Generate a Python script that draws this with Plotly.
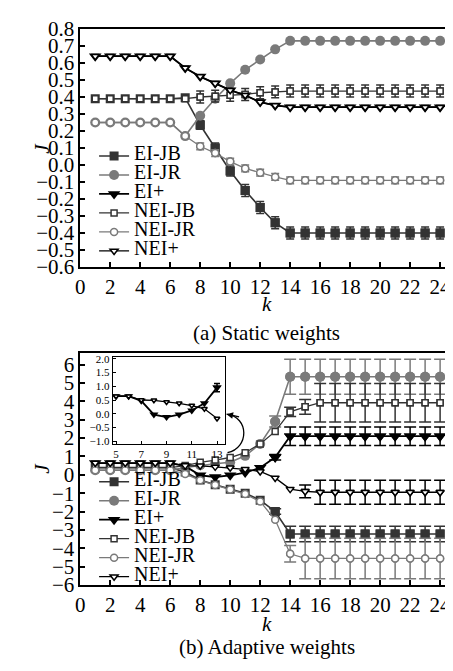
import plotly.graph_objects as go

# ---------------- data ----------------
k = list(range(1, 25))
series_names = ["EI-JB", "EI-JR", "EI+", "NEI-JB", "NEI-JR", "NEI+"]

# (a) Static weights
static_ei_jb = [0.39] * 6 + [0.395, 0.235, 0.10, -0.035, -0.15, -0.25, -0.34] + [-0.40] * 11
static_ei_jb_err = [0] * 7 + [0.025, 0.03, 0.03, 0.035, 0.035, 0.035] + [0.035] * 11
static_ei_jr = [0.25] * 6 + [0.17, 0.29, 0.39, 0.48, 0.56, 0.62, 0.68] + [0.73] * 11
static_ei_plus = [0.64] * 6 + [0.57, 0.52, 0.48, 0.44, 0.41, 0.37, 0.35] + [0.34] * 11
static_nei_jb = [0.39] * 7 + [0.40, 0.405, 0.41, 0.415, 0.425, 0.43] + [0.435] * 11
static_nei_jb_err = [0] * 7 + [0.035] * 17
static_nei_jr = [0.25] * 6 + [0.17, 0.11, 0.07, 0.02, -0.02, -0.045, -0.07] + [-0.09] * 11
static_nei_jr_err = [0] * 7 + [0.02] * 17
static_nei_plus = [0.64] * 6 + [0.57, 0.52, 0.48, 0.44, 0.41, 0.37, 0.35] + [0.34] * 11

# (b) Adaptive weights
adapt_ei_jb = [0.39] * 6 + [0.15, -0.28, -0.54, -0.78, -1.0, -1.38, -2.0] + [-3.22] * 11
adapt_ei_jb_err = [0] * 12 + [0.15] + [0.42] * 11
adapt_ei_jr = [0.25] * 6 + [0.4, 0.52, 0.6, 0.68, 1.03, 1.68, 2.9] + [5.33] * 11
adapt_ei_jr_err = [0] * 12 + [0.3] + [0.95] * 11
adapt_ei_plus = [0.64] * 6 + [0.47, -0.03, -0.12, -0.03, 0.12, 0.38, 0.95] + [2.1] * 11
adapt_ei_plus_err = [0] * 12 + [0.15] + [0.5] * 11
adapt_nei_jb = [0.39] * 6 + [0.5, 0.68, 0.8, 0.94, 1.2, 1.68, 2.36, 3.42, 3.7] + [3.92] * 9
adapt_nei_jb_err = [0] * 13 + [0.25, 0.4] + [1.05] * 9
adapt_nei_jr = [0.25] * 6 + [0.05, -0.3, -0.56, -0.8, -1.05, -1.45, -2.45, -4.3] + [-4.55] * 10
adapt_nei_jr_err = [0] * 13 + [0.45] + [1.1] * 10
adapt_nei_plus = [0.64] * 6 + [0.5, 0.49, 0.43, 0.38, 0.3, 0.18, -0.17, -0.78, -0.9] + [-0.95] * 9
adapt_nei_plus_err = [0] * 14 + [0.35] + [0.65] * 9

inset_k = [5, 6, 7, 8, 9, 10, 11, 12, 13]

x_ticks = list(range(0, 25, 2))
inset_x_ticks = [5, 7, 9, 11, 13]

# ---------------- styles ----------------
FONT = "'Liberation Serif', 'Times New Roman', 'DejaVu Serif', serif"
DARK = "#333333"
GRAY = "#7a7a7a"
BLACK = "#000000"
styles = {
    "EI-JB": dict(symbol="square", size=9, fill=DARK, edge=DARK, lw=1.6, mlw=0),
    "EI-JR": dict(symbol="circle", size=10, fill=GRAY, edge=GRAY, lw=1.6, mlw=0),
    "EI+": dict(symbol="triangle-down", size=11, fill=BLACK, edge=BLACK, lw=1.8, mlw=0),
    "NEI-JB": dict(symbol="square", size=6, fill="white", edge=DARK, lw=1.3, mlw=1.5),
    "NEI-JR": dict(symbol="circle", size=7, fill="white", edge=GRAY, lw=1.3, mlw=1.5),
    "NEI+": dict(symbol="triangle-down", size=7, fill="white", edge=BLACK, lw=1.3, mlw=1.5),
}

fig = go.Figure()


def add_series(name, y, err, xa, ya, legend, capw, showlegend=True, xs=None):
    st = styles[name]
    xs = k if xs is None else xs
    marker = dict(symbol=st["symbol"], size=st["size"], color=st["fill"],
                  line=dict(color=st["edge"], width=st["mlw"]))
    fig.add_trace(go.Scatter(
        x=xs, y=y, mode="lines+markers", xaxis=xa, yaxis=ya,
        name=f'<span style="font-size:20px">{name}</span>',
        legend=legend, showlegend=showlegend,
        line=dict(color=st["edge"], width=st["lw"]), marker=marker))
    if err is not None:
        ex = [xv for xv, e in zip(xs, err) if e > 0]
        ey = [yv for yv, e in zip(y, err) if e > 0]
        ee = [e for e in err if e > 0]
        fig.add_trace(go.Scatter(
            x=ex, y=ey, mode="markers", xaxis=xa, yaxis=ya, showlegend=False,
            marker=marker,
            error_y=dict(type="data", array=ee, visible=True, color=st["edge"],
                         thickness=1.5, width=capw)))


top = [
    ("EI-JB", static_ei_jb, static_ei_jb_err),
    ("EI-JR", static_ei_jr, None),
    ("EI+", static_ei_plus, None),
    ("NEI-JB", static_nei_jb, static_nei_jb_err),
    ("NEI-JR", static_nei_jr, static_nei_jr_err),
    ("NEI+", static_nei_plus, None),
]
for n, y, e in top:
    add_series(n, y, e, "x", "y", "legend", 4)

bottom = [
    ("EI-JB", adapt_ei_jb, adapt_ei_jb_err),
    ("EI-JR", adapt_ei_jr, adapt_ei_jr_err),
    ("EI+", adapt_ei_plus, adapt_ei_plus_err),
    ("NEI-JB", adapt_nei_jb, adapt_nei_jb_err),
    ("NEI-JR", adapt_nei_jr, adapt_nei_jr_err),
    ("NEI+", adapt_nei_plus, adapt_nei_plus_err),
]
for n, y, e in bottom:
    add_series(n, y, e, "x2", "y2", "legend2", 6)

# inset (k = 5..13 of EI+ and NEI+)
i0, i1 = k.index(inset_k[0]), k.index(inset_k[-1]) + 1
add_series("EI+", adapt_ei_plus[i0:i1], adapt_ei_plus_err[i0:i1], "x3", "y3", "legend", 3,
           showlegend=False, xs=inset_k)
add_series("NEI+", adapt_nei_plus[i0:i1], None, "x3", "y3", "legend", 3,
           showlegend=False, xs=inset_k)
for tr in fig.data[-3:]:
    tr.marker.size = max(5, tr.marker.size - 3)

# page has an 8px body margin: size the figure to fit inside the 453x671 window
OFF = 8
W, H = 453 - OFF, 671 - OFF


def px(wx):
    return (wx - OFF) / W


def py(wy):
    return 1 - (wy - OFF) / H


axis_common = dict(showline=True, linecolor="black", linewidth=1.5, ticks="inside",
                   ticklen=5, tickwidth=1.5, tickcolor="black", showgrid=False,
                   zeroline=False, tickfont=dict(family=FONT, size=21, color="black"))
inset_axis = dict(showline=True, mirror=True, linecolor="black", linewidth=1.2,
                  ticks="inside", ticklen=3, tickcolor="black", showgrid=False,
                  zeroline=False, tickfont=dict(family=FONT, size=11, color="black"))
legend_common = dict(xanchor="left", yanchor="top", bgcolor="rgba(0,0,0,0)",
                     borderwidth=0, traceorder="normal", tracegroupgap=0,
                     font=dict(family=FONT, size=11, color="black"))

fig.update_layout(
    width=W, height=H, autosize=False,
    margin=dict(l=0, r=0, t=0, b=0),
    paper_bgcolor="white", plot_bgcolor="rgba(0,0,0,0)",
    font=dict(family=FONT, color="black"),
    xaxis=dict(domain=[px(76), 1], range=[0, 24.86], tickvals=x_ticks, anchor="y",
               mirror=True, **axis_common),
    yaxis=dict(domain=[py(264.3), py(17.3)], range=[-0.6, 0.8], dtick=0.1,
               tickformat=".1f", anchor="x", **axis_common),
    xaxis2=dict(domain=[px(76), 1], range=[0, 24.86], tickvals=x_ticks, anchor="y2",
                mirror=True, **axis_common),
    yaxis2=dict(domain=[py(594.3), py(354)], range=[-6, 6.6], dtick=1,
                anchor="x2", **axis_common),
    xaxis3=dict(domain=[px(109), px(222)], range=[4.75, 13.6], tickvals=inset_x_ticks,
                anchor="y3", **inset_axis),
    yaxis3=dict(domain=[py(448), py(358)], range=[-1.1, 2.05], dtick=0.5,
                tickformat=".1f", anchor="x3", **inset_axis),
    legend=dict(x=px(90), y=py(134), **legend_common),
    legend2=dict(x=px(90), y=py(472), **legend_common),
    showlegend=True,
)

ann_font = dict(family=FONT, size=21, color="black")
xc = px((76 + 453) / 2)
for txt, yy in [("<i>k</i>", 303), ("(a) Static weights", 333),
                ("<i>k</i>", 635), ("(b) Adaptive weights", 659)]:
    fig.add_annotation(text=txt, x=xc, y=py(yy), xref="paper", yref="paper",
                       showarrow=False, font=ann_font, xanchor="center", yanchor="middle")
for yy in [141, 473]:
    fig.add_annotation(text="<i>J</i>", x=px(38), y=py(yy), xref="paper", yref="paper",
                       showarrow=False, font=ann_font, textangle=-90,
                       xanchor="center", yanchor="middle")

# curved arrow from the main curves to the inset
fig.add_shape(type="path", xref="x2", yref="y2",
              path="M 9.82,1.20 C 11.28,1.46 11.28,3.14 9.76,3.30",
              line=dict(color="black", width=1.3))
fig.add_annotation(x=9.76, y=3.30, xref="x2", yref="y2", text="", showarrow=True,
                   ax=14, ay=3, arrowhead=2, arrowsize=1, arrowwidth=1.3,
                   arrowcolor="black")

fig.write_html("out.html")
